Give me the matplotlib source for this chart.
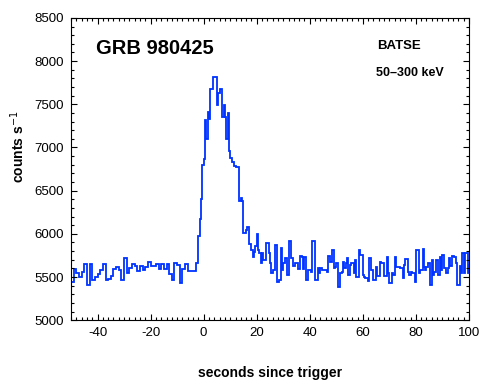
import numpy as np
import matplotlib
matplotlib.use("Agg")
import matplotlib.pyplot as plt
from matplotlib.ticker import MultipleLocator

# BATSE light curve, 50-300 keV
# pre-trigger: 1 s bins starting at -50 s
pre_start = -50.0
pre_width = 1.0
pre_counts = [
    5440, 5590, 5550, 5500, 5555, 5645, 5405, 5645, 5465, 5500,
    5540, 5585, 5645, 5470, 5480, 5515, 5595, 5615, 5585, 5470,
    5725, 5550, 5610, 5655, 5625, 5570, 5625, 5585, 5615, 5670,
    5625, 5625, 5655, 5590, 5645, 5595, 5655, 5540, 5465, 5665,
    5635, 5435, 5595, 5655, 5570, 5575, 5575,
]

# burst + post-trigger: 0.5 s bins starting at -3 s
post_start = -3.0
post_width = 0.5
post_counts = [
    # -3 .. 19
    5668, 5668, 5977, 6167, 6402, 6796, 6862, 7318, 7100, 7415,
    7330, 7673, 7673, 7813, 7813, 7813, 7490, 7634, 7673, 7673,
    7357, 7490, 7357, 7098, 7396, 6959, 6882, 6831, 6831, 6780,
    6769, 6769, 6769, 6383, 6420, 6383, 6004, 6004, 6040, 6080,
    5888, 5888, 5810, 5733, 5790,
    # 19.5 .. 45
    5858, 5997, 5811, 5773, 5657, 5773, 5695, 5695, 5889, 5889,
    5773, 5657, 5541, 5580, 5580, 5869, 5444, 5444, 5464, 5831,
    5580, 5657, 5715, 5715, 5522, 5919, 5919, 5715, 5626, 5626,
    5657, 5657, 5587, 5587, 5742, 5734, 5587, 5734, 5471, 5471,
    5580, 5580, 5560, 5916, 5916, 5471, 5471, 5599, 5541, 5599,
    5580, 5580,
    # 45.5 .. 72.5
    5580, 5580, 5560, 5742, 5676, 5676, 5811, 5599, 5618, 5657,
    5379, 5379, 5541, 5560, 5676, 5599, 5664, 5715, 5522, 5637,
    5657, 5657, 5541, 5695, 5502, 5502, 5811, 5753, 5753, 5522,
    5502, 5483, 5483, 5456, 5715, 5580, 5580, 5464, 5464, 5618,
    5510, 5510, 5676, 5657, 5657, 5510, 5510, 5726, 5541, 5433,
    5433, 5541, 5522, 5734, 5618,
    # 73 .. 100
    5618, 5618, 5599, 5599, 5483, 5637, 5703, 5703, 5560, 5522,
    5560, 5541, 5541, 5444, 5811, 5811, 5549, 5580, 5580, 5819,
    5618, 5580, 5618, 5665, 5665, 5406, 5695, 5522, 5560, 5695,
    5695, 5522, 5734, 5580, 5753, 5599, 5599, 5541, 5599, 5715,
    5626, 5742, 5742, 5734, 5665, 5406, 5406, 5626, 5541, 5773,
    5549, 5773, 5773, 5541, 5637,
]

xlim = (-50, 100)
ylim = (5000, 8500)

plt.rcParams['font.family'] = ['Liberation Sans', 'DejaVu Sans']
plt.rcParams['axes.unicode_minus'] = False

fig = plt.figure(figsize=(4.9, 3.9), dpi=100)
ax = fig.add_axes([0.145, 0.179, 0.812, 0.775])

pre_edges = pre_start + pre_width * np.arange(len(pre_counts) + 1)
post_edges = post_start + post_width * np.arange(len(post_counts) + 1)
edges = np.concatenate([pre_edges, post_edges[1:]])
vals = np.concatenate([pre_counts, post_counts])
ax.stairs(vals, edges, color='#0033ff', lw=1.3, baseline=None)

ax.set_xlim(*xlim)
ax.set_ylim(*ylim)
ax.xaxis.set_major_locator(MultipleLocator(20))
ax.xaxis.set_minor_locator(MultipleLocator(2))
ax.yaxis.set_major_locator(MultipleLocator(500))
ax.yaxis.set_minor_locator(MultipleLocator(100))
ax.tick_params(which='both', direction='in', top=True, right=True,
               width=0.8, labelsize=9.5, pad=5)
ax.tick_params(which='major', length=4.3)
ax.tick_params(which='minor', length=2.2)
for sp in ax.spines.values():
    sp.set_linewidth(0.8)

ax.set_xlabel('seconds since trigger', fontsize=10, fontweight='bold')
ax.xaxis.set_label_coords(0.5, -0.15)
ax.set_ylabel('counts s$^{-1}$', fontsize=10, fontweight='bold')
ax.yaxis.set_label_coords(-0.11, 0.573)

ax.text(0.063, 0.881, 'GRB 980425', transform=ax.transAxes,
        fontsize=14.5, fontweight='bold', va='baseline')
ax.text(0.769, 0.897, 'BATSE', transform=ax.transAxes,
        fontsize=9.5, fontweight='bold', va='baseline')
ax.text(0.766, 0.808, '50\u2013300 keV', transform=ax.transAxes,
        fontsize=9, fontweight='bold', va='baseline')

fig.savefig('out.png', dpi=100)
